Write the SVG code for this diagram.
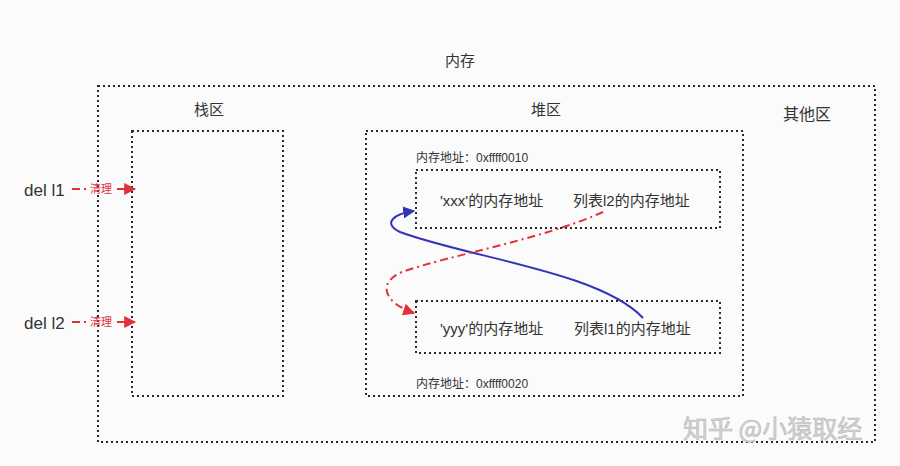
<svg xmlns="http://www.w3.org/2000/svg" width="900" height="466" viewBox="0 0 900 466">
<style>
.box{fill:none;stroke:#2a2a2a;stroke-width:2;stroke-dasharray:2 3}
.t{font-family:"Liberation Sans","Noto Sans CJK SC",sans-serif;fill:#333;font-size:15px}
.s{font-family:"Liberation Sans","Noto Sans CJK SC",sans-serif;fill:#333;font-size:12px}
.d{font-size:17px}
.o{font-size:16px}
.r{font-family:"Noto Sans CJK SC",sans-serif;fill:#e0303a;font-size:11px}
.red{fill:none;stroke:#e0303a;stroke-width:2;stroke-dasharray:8 4 2 4}
.blue{fill:none;stroke:#3333b8;stroke-width:2}
</style>
<defs>
<marker id="arL" viewBox="0 0 10 10" refX="9" refY="5" markerWidth="12" markerHeight="12" orient="auto" markerUnits="userSpaceOnUse"><path d="M0,0 L10,5 L0,10 z" fill="#e0303a"/></marker>
<marker id="abL" viewBox="0 0 10 10" refX="9" refY="5" markerWidth="12" markerHeight="12" orient="auto" markerUnits="userSpaceOnUse"><path d="M0,0 L10,5 L0,10 z" fill="#3333b8"/></marker>
</defs>
<rect width="900" height="466" fill="#fbfbfb"/>
<g id="memory">
<rect class="box" x="98" y="86" width="777" height="356"/>
<text class="t" x="460" y="66" text-anchor="middle">内存</text>
</g>
<g id="other"><text class="t o" x="807" y="120" text-anchor="middle">其他区</text></g>
<g id="stack">
<rect class="box" x="132" y="131" width="151" height="265"/>
<text class="t" x="209" y="115" text-anchor="middle">栈区</text>
</g>
<g id="heap">
<rect class="box" x="366" y="131" width="377" height="265"/>
<text class="t" x="546" y="115" text-anchor="middle">堆区</text>
</g>
<g id="obj1">
<text class="s" x="416" y="162">内存地址：0xffff0010</text>
<rect class="box" x="416" y="170" width="304" height="58"/>
<text class="t" x="440" y="206">'xxx'的内存地址</text>
<text class="t" x="573" y="206">列表l2的内存地址</text>
</g>
<g id="obj2">
<rect class="box" x="416" y="301" width="304" height="52"/>
<text class="t" x="440" y="334">'yyy'的内存地址</text>
<text class="t" x="574" y="334">列表l1的内存地址</text>
<text class="s" x="416" y="388">内存地址：0xffff0020</text>
</g>
<g id="del1"><text class="t d" x="24" y="196">del l1</text></g>
<g id="del2"><text class="t d" x="24" y="329">del l2</text></g>
<g id="connectors">
<line class="red" x1="72" y1="189" x2="88" y2="189"/>
<text class="r" x="90" y="193">清理</text>
<line x1="117" y1="189" x2="135" y2="189" stroke="#e0303a" stroke-width="2" marker-end="url(#arL)"/>
<line class="red" x1="72" y1="322" x2="88" y2="322"/>
<text class="r" x="90" y="326">清理</text>
<line x1="117" y1="322" x2="135" y2="322" stroke="#e0303a" stroke-width="2" marker-end="url(#arL)"/>
<path class="blue" d="M643,318 C600,272 470,258 400,232 C383,224 392,214 414,211" marker-end="url(#abL)"/>
<path class="red" d="M603,212 C540,240 450,255 402,272 C378,282 382,302 414,313" marker-end="url(#arL)"/>
</g>
<text x="683" y="438" font-family="Noto Sans CJK SC,sans-serif" font-size="25" fill="#d4d4d4" stroke="#b8b8b8" stroke-width="0.6">知乎 @小猿取经</text>
</svg>
